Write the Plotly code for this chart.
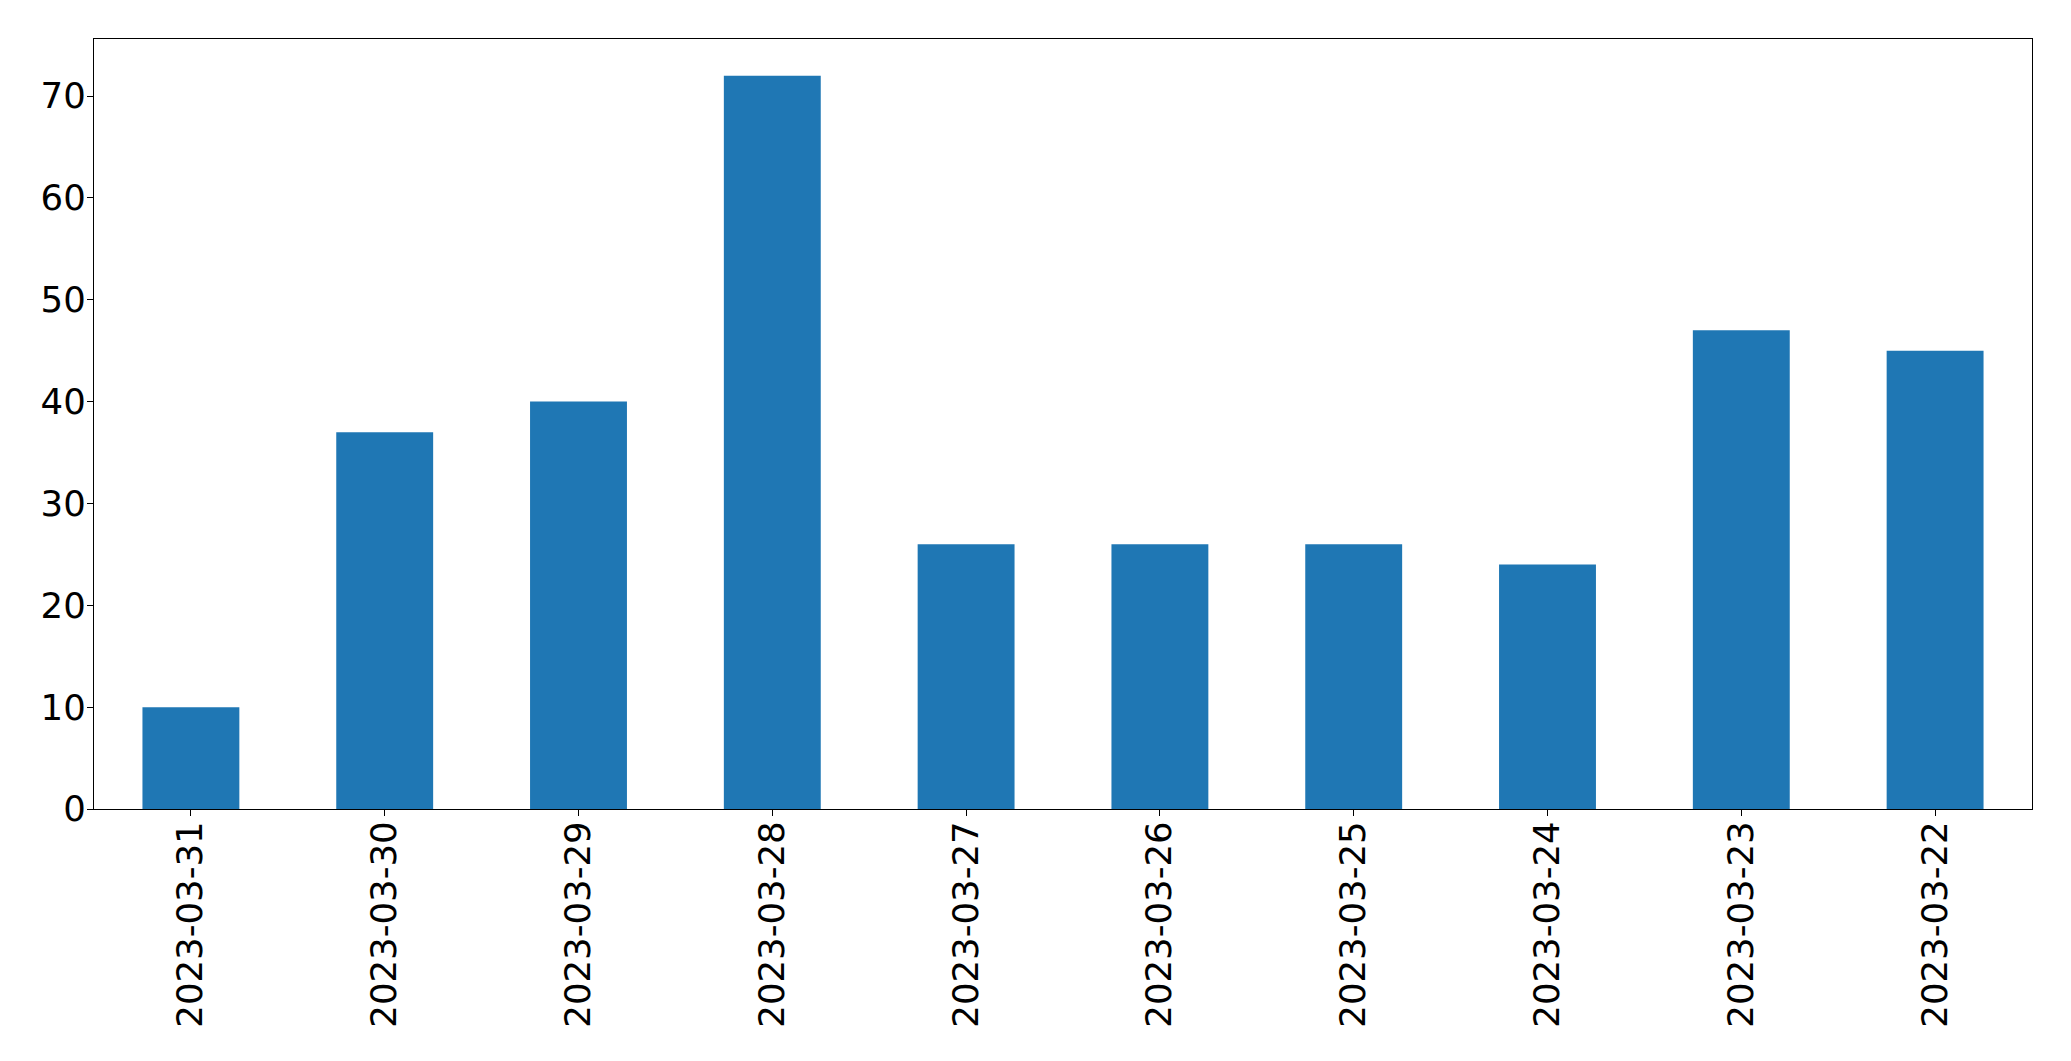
import plotly.graph_objects as go

dates = ["2023-03-31", "2023-03-30", "2023-03-29", "2023-03-28", "2023-03-27",
         "2023-03-26", "2023-03-25", "2023-03-24", "2023-03-23", "2023-03-22"]
counts = [10, 37, 40, 72, 26, 26, 26, 24, 47, 45]
y_ticks = [0, 10, 20, 30, 40, 50, 60, 70]

fig = go.Figure(go.Bar(x=dates, y=counts, marker_color="#1f77b4",
                       marker_line_width=0, width=0.5))

fig.update_layout(
    width=2063, height=1053,
    margin=dict(l=86, r=39, t=31, b=252),
    paper_bgcolor="white", plot_bgcolor="white",
    font=dict(family="DejaVu Sans", size=35.5, color="black"),
    showlegend=False,
)
fig.update_xaxes(
    type="category", range=[-0.5, 9.5], tickangle=-90,
    showline=True, linecolor="black", linewidth=1.3, mirror=True,
    ticks="outside", ticklen=6, tickwidth=1.3, tickcolor="black",
    showgrid=False, zeroline=False, ticklabelstandoff=-9,
)
fig.update_yaxes(
    range=[0, 75.6], tickvals=y_ticks,
    showline=True, linecolor="black", linewidth=1.3, mirror=True,
    ticks="outside", ticklen=6, tickwidth=1.3, tickcolor="black",
    showgrid=False, zeroline=False, ticklabelstandoff=-6,
)

fig.write_html("out.html")
